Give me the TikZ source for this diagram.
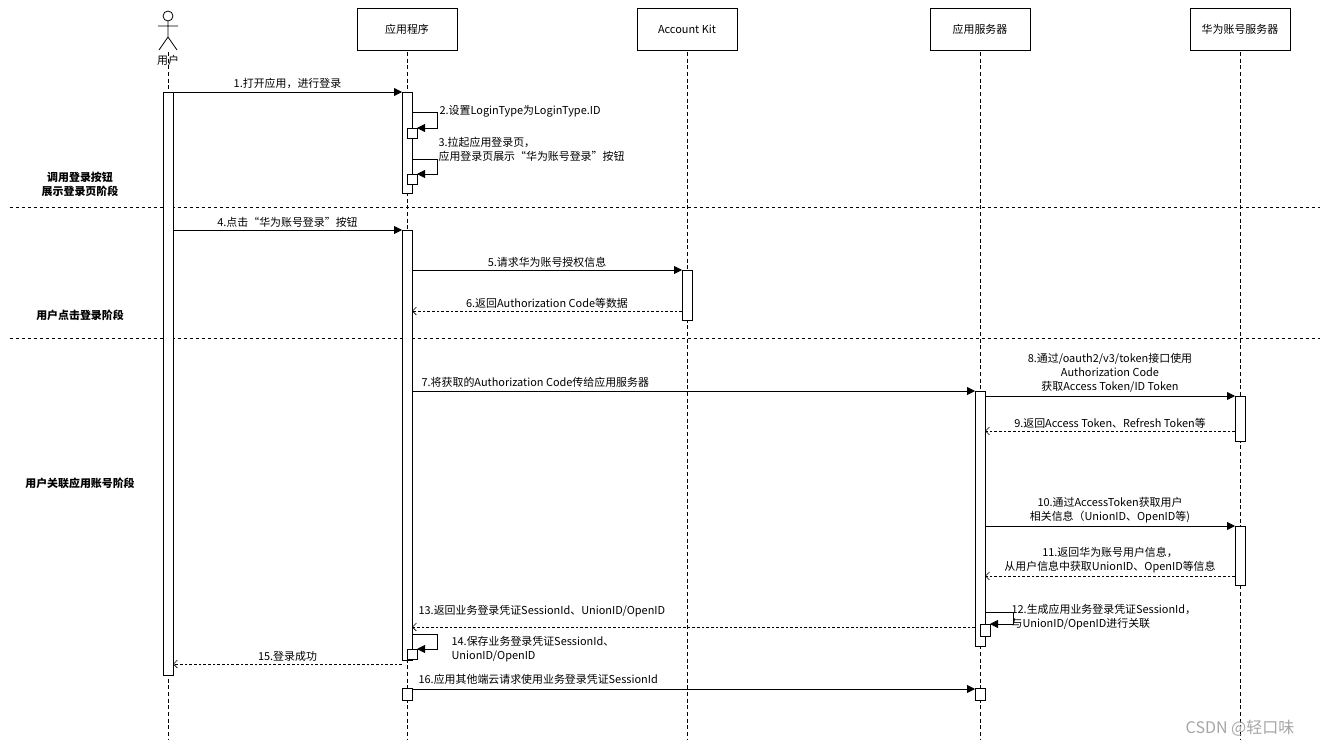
\documentclass[tikz,border=0pt]{standalone}
\usepackage{fontspec}
\setmainfont{Noto Sans CJK SC}
\usetikzlibrary{arrows.meta}
\begin{document}
\begin{tikzpicture}[x=0.75pt,y=-0.75pt,
  every node/.style={font=\fontsize{8.2}{10.5}\selectfont,inner sep=1pt},
  head/.style={draw,minimum width=75pt,minimum height=31.5pt,anchor=north},
  life/.style={dash pattern=on 3pt off 2pt,line width=0.5pt},
  act/.style={draw,fill=white,line width=0.6pt},
  msg/.style={-{Triangle[length=6pt,width=6pt]},line width=0.6pt},
  ret/.style={-{Straight Barb[length=3pt,width=6pt]},dash pattern=on 2pt off 1.5pt,line width=0.5pt},
  stage/.style={font=\fontsize{8.2}{10.5}\selectfont\bfseries,align=center},
  sep/.style={dash pattern=on 2.5pt off 2pt,line width=0.6pt}]
\useasboundingbox (0,0) rectangle (1331,750);
% headers
\node[head] (app) at (407,8) {应用程序};
\node[head] (ak) at (687,8) {Account Kit};
\node[head] (srv) at (980,8) {应用服务器};
\node[head] (hw) at (1240,8) {华为账号服务器};
% actor
\draw[line width=0.6pt] (168,16) circle (5);
\draw[line width=0.6pt] (168,21)--(168,37) (158,26)--(178,26) (168,37)--(159,50) (168,37)--(177,50);
\node (user) at (168,60) {用户};
% lifelines
\foreach \x in {168,407,687,980,1240} \draw[life] (\x,52)--(\x,740);
% separators
\draw[sep] (10,207)--(1320,207);
\draw[sep] (10,338)--(1320,338);
\node[stage] at (80,184) {调用登录按钮\\展示登录页阶段};
\node[stage] at (80,315) {用户点击登录阶段};
\node[stage] at (80,483) {用户关联应用账号阶段};
% activations
\draw[act] (163,92) rectangle (173,675);
\draw[act] (402,92) rectangle (412,193);
\draw[act] (407,128) rectangle (417,138);
\draw[act] (407,174) rectangle (417,184);
\draw[act] (402,230) rectangle (412,660);
\draw[act] (407,649) rectangle (417,659);
\draw[act] (402,688) rectangle (412,700);
\draw[act] (682,270) rectangle (692,320);
\draw[act] (975,391) rectangle (985,646);
\draw[act] (980,624) rectangle (990,636);
\draw[act] (975,688) rectangle (985,700);
\draw[act] (1235,396) rectangle (1245,441);
\draw[act] (1235,526) rectangle (1245,585);
% messages
\draw[msg] (173,92)--(402,92) node[midway,above=1pt] {1.打开应用，进行登录};
\draw[msg] (412,112)--(437,112)--(437,128)--(417,128);
\node[anchor=west] at (438,111) {2.设置LoginType为LoginType.ID};
\draw[msg] (412,159)--(437,159)--(437,174)--(417,174);
\node[anchor=west,align=left] at (437,149) {3.拉起应用登录页，\\应用登录页展示“华为账号登录”按钮};
\draw[msg] (173,230)--(402,230) node[midway,above=1pt] {4.点击“华为账号登录”按钮};
\draw[msg] (412,270)--(682,270) node[midway,above=1pt] {5.请求华为账号授权信息};
\draw[ret] (682,311)--(412,311) node[midway,above=1pt] {6.返回Authorization Code等数据};
\draw[msg] (412,391)--(975,391);
\node[anchor=west] at (420,382) {7.将获取的Authorization Code传给应用服务器};
\draw[msg] (985,396)--(1235,396) node[midway,above=1pt,align=center] {8.通过/oauth2/v3/token接口使用\\Authorization Code\\获取Access Token/ID Token};
\draw[ret] (1235,431)--(985,431) node[midway,above=1pt] {9.返回Access Token、Refresh Token等};
\draw[msg] (985,526)--(1235,526) node[midway,above=1pt,align=center] {10.通过AccessToken获取用户\\相关信息（UnionID、OpenID等)};
\draw[ret] (1235,576)--(985,576) node[midway,above=1pt,align=center] {11.返回华为账号用户信息，\\从用户信息中获取UnionID、OpenID等信息};
\draw[msg] (985,612)--(1013,612)--(1013,624)--(990,624);
\node[anchor=west,align=left] at (1010,617) {12.生成应用业务登录凭证SessionId，\\与UnionID/OpenID进行关联};
\draw[ret] (975,627)--(412,627);
\node[anchor=west] at (417,611) {13.返回业务登录凭证SessionId、UnionID/OpenID};
\draw[msg] (412,634)--(437,634)--(437,649)--(417,649);
\node[anchor=west,align=left] at (450,649) {14.保存业务登录凭证SessionId、\\UnionID/OpenID};
\draw[ret] (402,664)--(173,664) node[midway,above=1pt] {15.登录成功};
\draw[msg] (412,689)--(975,689);
\node[anchor=west] at (417,679) {16.应用其他端云请求使用业务登录凭证SessionId};
\node[text=gray!70,font=\fontsize{12}{14}\selectfont] at (1240,728) {CSDN @轻口味};
\end{tikzpicture}
\end{document}
